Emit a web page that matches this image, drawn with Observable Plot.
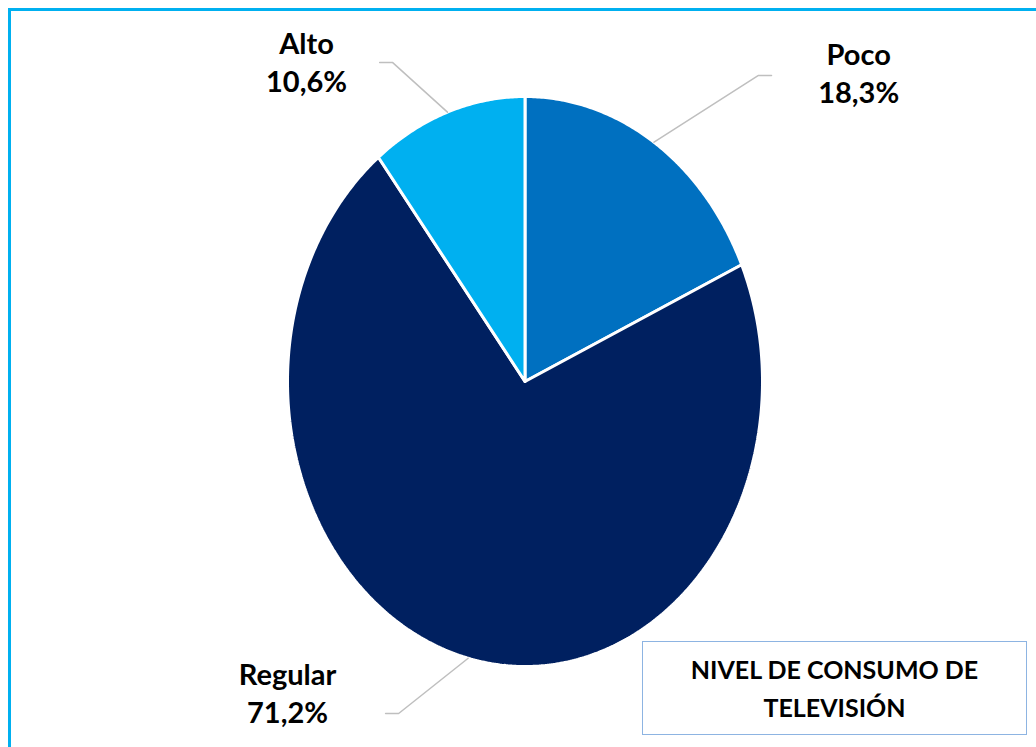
<!DOCTYPE html>
<html>
<head>
<meta charset="utf-8">
<script src="https://cdn.jsdelivr.net/npm/d3@7"></script>
<script src="https://cdn.jsdelivr.net/npm/@observablehq/plot@0.6"></script>
<style>
  html, body { margin: 0; padding: 0; background: #fff; }
  #wrap { position: relative; width: 1036px; height: 747px; overflow: hidden; }
  #frame { position: absolute; left: 8px; top: 8px; width: 1100px; height: 800px; border: 3px solid #00B0F0; box-sizing: border-box; pointer-events: none; }
  #title { position: absolute; left: 642px; top: 641px; width: 385px; height: 94px; border: 1px solid #8DB4E2; box-sizing: border-box; background: #fff;
           font-family: Lato, "Open Sans", sans-serif; font-weight: bold; font-size: 25px; line-height: 38px; text-align: center; color: #000; padding-top: 8px; }
  #chart { position: absolute; left: 0; top: 0; }
</style>
</head>
<body>
<div id="wrap">
  <div id="chart"></div>
  <div id="frame"></div>
  <div id="title">NIVEL DE CONSUMO DE<br>TELEVISIÓN</div>
</div>
<script>
// ---- data ----
const categories = ["Poco", "Regular", "Alto"];
const percents = [18.3, 71.2, 10.6];
const percentLabels = ["18,3%", "71,2%", "10,6%"];
const colors = ["#0070C0", "#002060", "#00B0F0"];

// ---- layout (label placement, unit ellipse coordinates) ----
const labelPos = [[1.405, 1.085], [-1.0, -1.088], [-0.92, 1.124]];
const elbowPos = [[0.983, 1.074], [-0.532, -1.165], [-0.557, 1.119]];
const tailLen = 0.055;

const total = d3.sum(percents);
let acc = 0;
const slices = categories.map((c, i) => {
  const a0 = acc / total * 2 * Math.PI;
  acc += percents[i];
  const a1 = acc / total * 2 * Math.PI;
  return {key: c, a0, a1, mid: (a0 + a1) / 2, color: colors[i], label: c + "\n" + percentLabels[i], i};
});

// polygon points for each slice (clockwise from 12 o'clock)
const slicePts = slices.map(s => {
  const pts = [{x: 0, y: 0}];
  const n = Math.max(8, Math.ceil((s.a1 - s.a0) / (Math.PI / 360)));
  for (let k = 0; k <= n; k++) {
    const a = s.a0 + (s.a1 - s.a0) * k / n;
    pts.push({x: Math.sin(a), y: Math.cos(a)});
  }
  pts.push({x: 0, y: 0});
  return pts;
});

const leaderPts = slices.flatMap(s => {
  const e = elbowPos[s.i];
  const dir = Math.sign(labelPos[s.i][0] - e[0]);
  return [
    {key: s.key, x: Math.sin(s.mid), y: Math.cos(s.mid)},
    {key: s.key, x: e[0], y: e[1]},
    {key: s.key, x: e[0] + dir * tailLen, y: e[1]}
  ];
});

const labelData = slices.map(s => ({label: s.label, x: labelPos[s.i][0], y: labelPos[s.i][1]}));

const chart = Plot.plot({
  width: 1036,
  height: 747,
  margin: 0,
  x: {domain: [-1, 1], range: [287, 762], axis: null},
  y: {domain: [-1, 1], range: [666, 96], axis: null},
  marks: [
    ...slicePts.map((pts, i) => Plot.line(pts, {
      x: "x", y: "y", fill: slices[i].color, stroke: "#fff", strokeWidth: 3,
      strokeLinejoin: "miter", curve: "linear"
    })),
    Plot.line(leaderPts, {x: "x", y: "y", z: "key", stroke: "#BFBFBF", strokeWidth: 1.5}),
    Plot.text(labelData, {
      x: "x", y: "y", text: "label", fontSize: 29, fontWeight: "bold",
      fontFamily: "Lato, 'Open Sans', sans-serif", fill: "#000", lineHeight: 1.31,
      textAnchor: "middle"
    })
  ]
});
document.getElementById("chart").appendChild(chart);
</script>
</body>
</html>
